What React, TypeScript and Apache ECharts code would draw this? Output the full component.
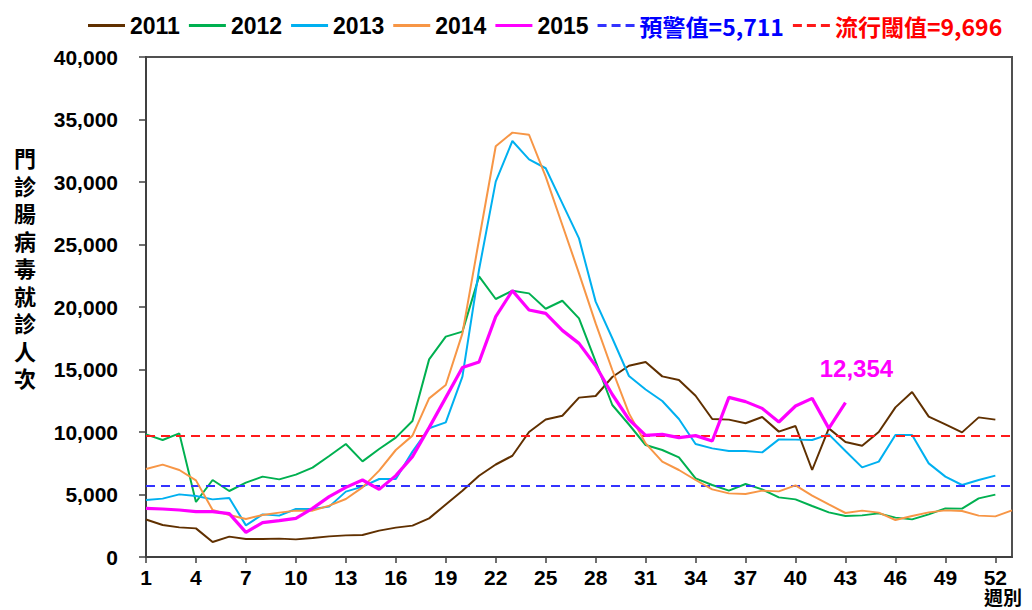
import React, { useEffect, useRef } from "react";
import * as echarts from "echarts";

const weeks: string[] = Array.from({ length: 53 }, (_, i) => String(i + 1));

const y2011 = [3000, 2560, 2370, 2290, 1200, 1630, 1440, 1440, 1470, 1410, 1520, 1650, 1730, 1760, 2110, 2350, 2510, 3090, 4200, 5300, 6500, 7400, 8100, 10000, 11000, 11300, 12750, 12880, 14400, 15300, 15600, 14450, 14160, 12900, 11040, 10990, 10700, 11200, 10030, 10480, 6960, 10290, 9200, 8900, 10000, 11970, 13200, 11230, 10610, 9970, 11170, 10990];
const y2012 = [9810, 9360, 9890, 4400, 6160, 5280, 5950, 6430, 6210, 6590, 7150, 8080, 9040, 7650, 8640, 9550, 10880, 15810, 17630, 18030, 22450, 20640, 21300, 21090, 19860, 20500, 19090, 15630, 12160, 10600, 8960, 8560, 7970, 6290, 5760, 5310, 5840, 5410, 4770, 4610, 4080, 3570, 3280, 3330, 3490, 3150, 3010, 3410, 3890, 3870, 4690, 4990];
const y2013 = [4560, 4670, 5010, 4880, 4610, 4720, 2530, 3410, 3310, 3840, 3840, 4030, 5230, 5630, 6240, 6240, 8430, 10300, 10770, 14430, 23000, 30030, 33280, 31810, 31100, 28290, 25490, 20430, 17500, 14480, 13400, 12480, 11040, 9040, 8690, 8480, 8480, 8370, 9410, 9390, 9360, 9810, 8480, 7170, 7630, 9760, 9760, 7490, 6430, 5760, 6160, 6510];
const y2014 = [7040, 7390, 6960, 6130, 3760, 3360, 3040, 3360, 3550, 3710, 3710, 4110, 4640, 5570, 6910, 8560, 9710, 12690, 13760, 17890, 25400, 32860, 33950, 33780, 30430, 26560, 22690, 18690, 14960, 11490, 9090, 7630, 6960, 6160, 5410, 5090, 5040, 5310, 5250, 5730, 4910, 4210, 3520, 3710, 3550, 2960, 3280, 3570, 3730, 3680, 3310, 3250, 3730];
const y2015 = [3890, 3840, 3760, 3630, 3630, 3470, 1970, 2750, 2910, 3090, 3890, 4830, 5570, 6160, 5410, 6510, 8030, 10350, 12750, 15160, 15600, 19230, 21310, 19760, 19490, 18130, 17090, 15300, 13000, 11000, 9730, 9810, 9550, 9710, 9280, 12770, 12430, 11890, 10800, 12080, 12690, 10290, 12354];

const WARN = 5711;
const EPIDEMIC = 9696;
const yTicks = { min: 0, max: 40000, interval: 5000 };

const fmt = (v: number) => v.toLocaleString("en-US");
const warnName = "預警值=" + fmt(WARN);
const epiName = "流行閾值=" + fmt(EPIDEMIC);
const yTitleChars = ["門", "診", "腸", "病", "毒", "就", "診", "人", "次"];

const NUM_FONT = "'Liberation Sans', Arial, 'Noto Sans CJK TC', sans-serif";
const CJK_FONT = "'Noto Sans CJK TC', 'Liberation Sans', sans-serif";

const SOLID_ICON = "path://M0,0h37v3h-37z";
const DASH_ICON = "path://M0,0h9v3h-9z M14,0h9v3h-9z M28,0h9v3h-9z";

export default function App() {
  const ref = useRef<HTMLDivElement>(null);
  useEffect(() => {
    document.body.style.margin = "0";
    const chart = echarts.init(ref.current!, null, { renderer: "svg" });
    const lineSeries = (name: string, data: number[], color: string, width: number, z: number) => ({
      name,
      type: "line",
      data,
      symbol: "none",
      showSymbol: false,
      z,
      lineStyle: { color, width },
      itemStyle: { color },
    });
    const last = y2015.length - 1;
    const thresholdSeries = (name: string, value: number, color: string) => ({
      name,
      type: "line",
      data: [],
      symbol: "none",
      lineStyle: { color, width: 2, type: [9, 6] },
      itemStyle: { color },
      z: 1,
      markLine: {
        silent: true,
        symbol: "none",
        label: { show: false },
        lineStyle: { color, width: 2, type: [9, 6] },
        data: [{ yAxis: value }],
      },
    });
    chart.setOption({
      animation: false,
      backgroundColor: "#ffffff",
      grid: {
        left: 146,
        right: 20,
        top: 57,
        bottom: 53,
        containLabel: false,
        show: true,
        borderColor: "#505050",
        borderWidth: 2,
      },
      legend: {
        left: 83,
        top: 9,
        itemWidth: 37,
        itemHeight: 3,
        itemGap: 9,
        textStyle: { fontSize: 23, fontWeight: "bold", color: "#000", fontFamily: NUM_FONT },
        data: [
          { name: "2011", icon: SOLID_ICON },
          { name: "2012", icon: SOLID_ICON },
          { name: "2013", icon: SOLID_ICON },
          { name: "2014", icon: SOLID_ICON },
          { name: "2015", icon: SOLID_ICON },
          { name: warnName, icon: DASH_ICON, textStyle: { color: "#0000ff", fontFamily: CJK_FONT, fontSize: 23, fontWeight: "bold" } },
          { name: epiName, icon: DASH_ICON, textStyle: { color: "#ff0000", fontFamily: CJK_FONT, fontSize: 23, fontWeight: "bold" } },
        ],
      },
      xAxis: {
        type: "category",
        data: weeks,
        boundaryGap: false,
        axisLine: { show: true, lineStyle: { color: "#404040", width: 2 } },
        axisTick: { show: true, interval: 2, length: 6, lineStyle: { color: "#404040", width: 1.5 } },
        axisLabel: {
          interval: 2,
          margin: 10,
          color: "#000",
          fontSize: 21,
          lineHeight: 21,
          fontWeight: "bold",
          fontFamily: "'Liberation Sans Narrow', 'Arial Narrow', 'Liberation Sans', Arial, sans-serif",
        },
        splitLine: { show: false },
      },
      yAxis: {
        type: "value",
        min: yTicks.min,
        max: yTicks.max,
        interval: yTicks.interval,
        axisLine: { show: true, lineStyle: { color: "#404040", width: 2 } },
        axisTick: { show: true, length: 7, lineStyle: { color: "#404040", width: 1.5 } },
        axisLabel: {
          margin: 28,
          color: "#000",
          fontSize: 21,
          fontWeight: "bold",
          fontFamily: NUM_FONT,
          formatter: (v: number) => fmt(v),
        },
        splitLine: { show: false },
      },
      graphic: [
        ...yTitleChars.map((ch, i) => ({
          type: "text",
          x: 25,
          y: 157 + i * 27.5,
          style: {
            text: ch,
            fontSize: 22,
            lineHeight: 22,
            fontWeight: "bold",
            fontFamily: CJK_FONT,
            fill: "#000",
            align: "center",
            verticalAlign: "middle",
          },
        })),
        {
          type: "text",
          x: 1003,
          y: 596,
          style: {
            text: "週別",
            fontSize: 19,
            lineHeight: 19,
            fontWeight: "bold",
            fontFamily: CJK_FONT,
            fill: "#000",
            align: "center",
            verticalAlign: "middle",
          },
        },
      ],
      series: [
        thresholdSeries(warnName, WARN, "#3333ff"),
        thresholdSeries(epiName, EPIDEMIC, "#ff1a1a"),
        lineSeries("2011", y2011, "#603000", 2, 2),
        lineSeries("2012", y2012, "#00b050", 2, 3),
        lineSeries("2013", y2013, "#00b0f0", 2, 4),
        lineSeries("2014", y2014, "#f79646", 2, 5),
        {
          ...lineSeries("2015", y2015, "#ff00ff", 3.2, 6),
          markPoint: {
            silent: true,
            symbol: "circle",
            symbolSize: 1,
            itemStyle: { color: "rgba(0,0,0,0)" },
            label: {
              show: true,
              position: "top",
              distance: 5,
              offset: [11, -17],
              formatter: (p: any) => fmt(p.value),
              color: "#ff00ff",
              fontSize: 24,
              fontWeight: "bold",
              fontFamily: NUM_FONT,
            },
            data: [{ coord: [weeks[last], y2015[last]], value: y2015[last] }],
          },
        },
      ],
    });
    return () => chart.dispose();
  }, []);
  return <div ref={ref} style={{ width: 1032, height: 610 }} />;
}
